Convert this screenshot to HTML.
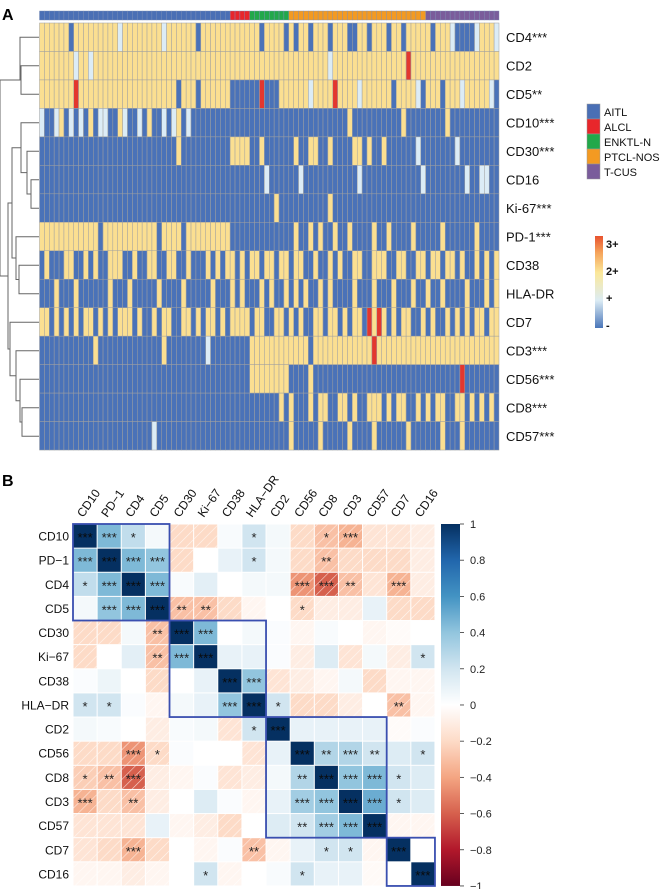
<!DOCTYPE html>
<html><head><meta charset="utf-8"><style>
html,body{margin:0;padding:0;background:#fff;}
svg{display:block;font-family:"Liberation Sans",Arial,sans-serif;}
</style></head><body>
<svg id="fig" width="660" height="889" viewBox="0 0 660 889" xmlns="http://www.w3.org/2000/svg">
<defs>
<pattern id="hatch" patternUnits="userSpaceOnUse" width="7" height="7" patternTransform="rotate(45)">
<line x1="0" y1="0" x2="0" y2="7" stroke="#fff" stroke-width="1.2" stroke-opacity="0.75"/>
</pattern>
<linearGradient id="scaleGrad" x1="0" y1="0" x2="0" y2="1">
<stop offset="0" stop-color="#e8522f"/><stop offset="0.18" stop-color="#f5a35a"/>
<stop offset="0.4" stop-color="#fbe89a"/><stop offset="0.7" stop-color="#dcecf4"/>
<stop offset="1" stop-color="#4a76b9"/></linearGradient>
<linearGradient id="cbGrad" x1="0" y1="0" x2="0" y2="1">
<stop offset="0" stop-color="#053061"/><stop offset="0.1" stop-color="#2166ac"/>
<stop offset="0.2" stop-color="#4393c3"/><stop offset="0.3" stop-color="#92c5de"/>
<stop offset="0.4" stop-color="#d1e5f0"/><stop offset="0.5" stop-color="#ffffff"/>
<stop offset="0.6" stop-color="#fddbc7"/><stop offset="0.7" stop-color="#f4a582"/>
<stop offset="0.8" stop-color="#d6604d"/><stop offset="0.9" stop-color="#b2182b"/>
<stop offset="1" stop-color="#67001f"/></linearGradient>
</defs>
<text x="2" y="20" font-size="16" font-weight="bold">A</text>
<text x="2" y="486" font-size="16" font-weight="bold">B</text>
<g id="gA"></g><g id="gB"></g>
<g fill="none" stroke="#666" stroke-width="1">
<path d="M39 37.3H20V80H0M39 65.8H21V94.3H39M21 80H20"/>
<path d="M39 179.8H31V208.3H39M39 151.3H27V194H31M39 122.8H21V172.6H27M39 265.3H19V293.8H39M39 236.8H16V279.5H19M21 147.7H12V258H16M39 407.8H22V436.3H39M39 379.3H20V422H22M39 350.8H16V400.7H20M39 322.3H10V375.7H16M12 203H8V349H10M8 276H0V80"/>
</g>
</svg>
<script>
const heatRows = ["CD4***","CD2","CD5**","CD10***","CD30***","CD16","Ki-67***","PD-1***","CD38","HLA-DR","CD7","CD3***","CD56***","CD8***","CD57***"];
const heatGroups = ["AITL","ALCL","ENKTL-N","PTCL-NOS","T-CUS"];
const heatGroupSizes = [39,4,8,28,15];
const heatValues = [
"2222220222 2222221222 2222212222 220222222|2222|22022220|2022022202 2200220222 02202222|2022210000 12221",
"2222222122 1222222222 2222222222 222222222|2222|22222222|2222222212 2222222222 22223222|2222222222 22222",
"2222222322 2222222222 2222222202 220222222|0000|00300022|2222122223 2222122222 20222210|2220222122 22210",
"1001201010 2011002100 1020010120 100000000|0000|00000000|0000000000 0020000000 00020000|0000200000 00000",
"0000000000 0000000000 0000000020 000000000|2222|00200000|0200220020 0002202002 00000010|0000001000 00000",
"0000000000 0000000000 0000000000 000000000|0000|00010000|0010000000 0000100000 00000001|0000000010 01100",
"0000000000 0000000000 0000000000 000000000|0000|00000200|0000000020 0000000000 00000000|0000000000 00000",
"2222222222 2202222222 2222022220 222222222|0000|00000000|0200202002 0020000200 20000200|0002000000 20000",
"0200022002 0200222002 0022002200 200020202|2020|22022022|0220020020 2002200222 00220022|0220220200 20202",
"0002000200 0000200020 0000200002 000002000|2020|00202002|0202002020 0002000200 02000200|2002000020 00202",
"2202020202 2020202220 2002022002 202022020|2222|02200220|2020022022 0202203232 02022002|0200202020 22022",
"0000000000 0200000000 0000020000 000010000|0000|22222222|2222022222 2222222322 22222222|2222222222 22222",
"0000000000 0000000000 0000000000 000000000|0000|22222222|0000200000 0000000000 00000000|0000000300 00000",
"0000000000 0000000000 0000000000 000000000|0000|00000020|2000202200 2202002220 20220020|2022002202 02020",
"0000000000 0000000000 0001000000 000000000|0000|00000000|2000002000 0020000200 00002000|0002000200 00000"
];
const corrLabels = ["CD10","PD\u22121","CD4","CD5","CD30","Ki\u221267","CD38","HLA\u2212DR","CD2","CD56","CD8","CD3","CD57","CD7","CD16"];
const corrValues = [
[1,.45,.25,.05,-.2,-.2,.03,.2,.05,-.2,-.3,-.35,-.15,-.15,-.1],
[.45,1,.45,.4,-.2,0,.1,.2,.05,-.2,-.3,-.2,-.2,-.2,-.1],
[.25,.45,1,.45,.03,.12,0,.05,.05,-.45,-.6,-.3,-.15,-.35,-.1],
[.05,.4,.45,1,-.3,-.3,-.2,-.05,0,-.2,-.1,-.1,.1,-.2,-.2],
[-.2,-.2,.05,-.3,1,.45,0,.05,.02,-.05,.03,0,-.05,-.02,0],
[-.2,0,.12,-.3,.45,1,.1,.1,.02,-.1,.15,-.15,.05,-.1,.2],
[.02,.08,0,-.2,0,.1,1,.4,-.15,-.1,-.05,.05,-.2,-.05,-.05],
[.2,.2,.02,-.05,.05,.1,.4,1,.2,-.2,-.2,-.1,0,-.3,-.05],
[.05,.03,0,-.1,.03,.05,-.15,.2,1,.1,.1,.1,.1,-.02,.02],
[-.2,-.2,-.45,-.2,.02,0,0,-.15,.1,1,.3,.3,.2,.15,.2],
[-.25,-.3,-.6,-.1,-.05,.02,-.15,-.1,.05,.3,1,.4,.45,.2,.15],
[-.35,-.2,-.3,-.1,0,.15,.02,-.05,.1,.35,.4,1,.5,.2,.15],
[-.15,-.15,-.15,.1,-.05,-.1,-.2,0,.15,.2,.35,.45,1,-.05,-.05],
[-.15,-.2,-.35,-.2,0,-.05,.02,-.3,-.05,.1,.2,.2,-.05,1,0],
[-.05,-.05,-.1,-.05,0,.2,-.05,0,.03,.2,.1,.1,-.03,0,1]
];
const corrStars = [
[3,3,1,0,0,0,0,1,0,0,1,3,0,0,0],
[3,3,3,3,0,0,0,1,0,0,2,0,0,0,0],
[1,3,3,3,0,0,0,0,0,3,3,2,0,3,0],
[0,3,3,3,2,2,0,0,0,1,0,0,0,0,0],
[0,0,0,2,3,3,0,0,0,0,0,0,0,0,0],
[0,0,0,2,3,3,0,0,0,0,0,0,0,0,1],
[0,0,0,0,0,0,3,3,0,0,0,0,0,0,0],
[1,1,0,0,0,0,3,3,1,0,0,0,0,2,0],
[0,0,0,0,0,0,0,1,3,0,0,0,0,0,0],
[0,0,3,1,0,0,0,0,0,3,2,3,2,0,1],
[1,2,3,0,0,0,0,0,0,2,3,3,3,1,0],
[3,0,2,0,0,0,0,0,0,3,3,3,3,1,0],
[0,0,0,0,0,0,0,0,0,2,3,3,3,0,0],
[0,0,3,0,0,0,0,2,0,0,1,1,0,3,0],
[0,0,0,0,0,1,0,0,0,1,0,0,0,0,3]
];
const clusters = [[0,3],[4,7],[8,12],[13,14]];
const cbTicks = [1,0.8,0.6,0.4,0.2,0,-0.2,-0.4,-0.6,-0.8,-1];
const scaleTicks = ["3+","2+","+","-"];

const NS="http://www.w3.org/2000/svg";
function mk(tag,attrs,parent){const e=document.createElementNS(NS,tag);for(const k in attrs)e.setAttribute(k,attrs[k]);parent.appendChild(e);return e;}
const gA=document.getElementById('gA'), gB=document.getElementById('gB');

// ---- Panel A ----
const hmX0=39.5,hmX1=499,hmY0=23,rowH=28.47;
const nCols=heatGroupSizes.reduce((a,b)=>a+b,0);
const colW=(hmX1-hmX0)/nCols;
const xA=c=>hmX0+c*colW, yA=r=>hmY0+r*rowH;
const heatColors={"0":"#4a72b8","1":"#dcecf6","2":"#fbdf91","3":"#e3372e"};
const groupColors=["#4a6fb5","#e8262b","#22a84a","#f39a22","#7a5c9b"];
let c0=0;
heatGroups.forEach((g,gi)=>{
  for(let k=0;k<heatGroupSizes[gi];k++){
    const r=mk('rect',{x:xA(c0+k),y:11,width:colW,height:9,fill:groupColors[gi],stroke:"#7d8fb5","stroke-width":0.4},gA);
    
    
  }
  c0+=heatGroupSizes[gi];
});
heatValues.forEach((s,ri)=>{
  const v=s.replace(/[ |]/g,'');
  for(let c=0;c<nCols;c++){
    const ch=v[c]||"0";
    const r=mk('rect',{x:xA(c),y:yA(ri),width:colW,height:rowH,fill:heatColors[ch],stroke:"#a0a0a0","stroke-width":0.5},gA);
    
    
  }
  const t=mk('text',{x:506,y:yA(ri)+rowH/2+5,"font-size":13,fill:"#111"},gA);
  t.textContent=heatRows[ri];
  
  
});
heatGroups.forEach((g,i)=>{
  const r=mk('rect',{x:587,y:104+15*i,width:13,height:15,fill:groupColors[i],stroke:"#999","stroke-width":0.5},gA);
  
  
  const t=mk('text',{x:604,y:116+15*i,"font-size":11,fill:"#111"},gA);
  t.textContent=g;
  
  
});
const sb=mk('rect',{x:595,y:236,width:8,height:92,fill:"url(#scaleGrad)"},gA);


scaleTicks.forEach((s,i)=>{
  const t=mk('text',{x:606,y:248+i*27,"font-size":11,"font-weight":"bold",fill:"#111"},gA);
  t.textContent=s;
  
  
});

// ---- Panel B ----
const bX0=73,bY0=524,cell=24.13,n=corrLabels.length;
const xB=i=>bX0+i*cell, yB=i=>bY0+i*cell;
const stops=[[-1,[103,0,31]],[-.8,[178,24,43]],[-.6,[214,96,77]],[-.4,[244,165,130]],[-.2,[253,219,199]],[0,[255,255,255]],[.2,[209,229,240]],[.4,[146,197,222]],[.6,[67,147,195]],[.8,[33,102,172]],[1,[5,48,97]]];
function cmap(v){for(let i=0;i<stops.length-1;i++){const[a,ca]=stops[i],[b,cb]=stops[i+1];if(v>=a&&v<=b){const t=(v-a)/(b-a);return 'rgb('+ca.map((x,k)=>Math.round(x+(cb[k]-x)*t)).join(',')+')';}}return '#fff';}
for(let i=0;i<n;i++)for(let j=0;j<n;j++){
  const v=corrValues[i][j];
  const r=mk('rect',{x:xB(j)+0.5,y:yB(i)+0.5,width:cell-1,height:cell-1,fill:cmap(v)},gB);
  
  
  if(v<0){const h=mk('rect',{x:xB(j)+0.5,y:yB(i)+0.5,width:cell-1,height:cell-1,fill:"url(#hatch)"},gB);
    
    }
  const s=corrStars[i][j];
  if(s){const t=mk('text',{x:xB(j)+cell/2,y:yB(i)+cell/2+6,"font-size":13,"text-anchor":"middle",fill:Math.abs(v)>0.7?"#0a0a0a":"#222"},gB);
    t.textContent="*".repeat(s);
    
    }
}
corrLabels.forEach((l,i)=>{
  const t=mk('text',{x:69,y:yB(i)+cell/2+4.5,"font-size":12,"text-anchor":"end",fill:"#111"},gB);
  t.textContent=l;
  
  
  const cx=xB(i)+cell/2-2, cy=518;
  const u=mk('text',{x:cx,y:cy,"font-size":12,fill:"#111",transform:`rotate(-55 ${cx} ${cy})`},gB);
  u.textContent=l;
  
  
});
clusters.forEach(([a,b])=>{
  const r=mk('rect',{x:xB(a),y:yB(a),width:(b-a+1)*cell,height:(b-a+1)*cell,fill:"none",stroke:"#3a4fb0","stroke-width":1.8},gB);
  
  
});
const cbY=v=>bY0+(1-v)/2*(n*cell);
const cb=mk('rect',{x:441,y:bY0,width:19,height:n*cell,fill:"url(#cbGrad)"},gB);


cbTicks.forEach(v=>{
  const y=cbY(v);
  mk('line',{x1:460,x2:464,y1:y,y2:y,stroke:"#333","stroke-width":0.8},gB);
  const t=mk('text',{x:470,y:y+4,"font-size":11,fill:"#222"},gB);
  t.textContent=(v<0?"\u2212"+Math.abs(v):String(v));
  
  
});
</script>
</body></html>
